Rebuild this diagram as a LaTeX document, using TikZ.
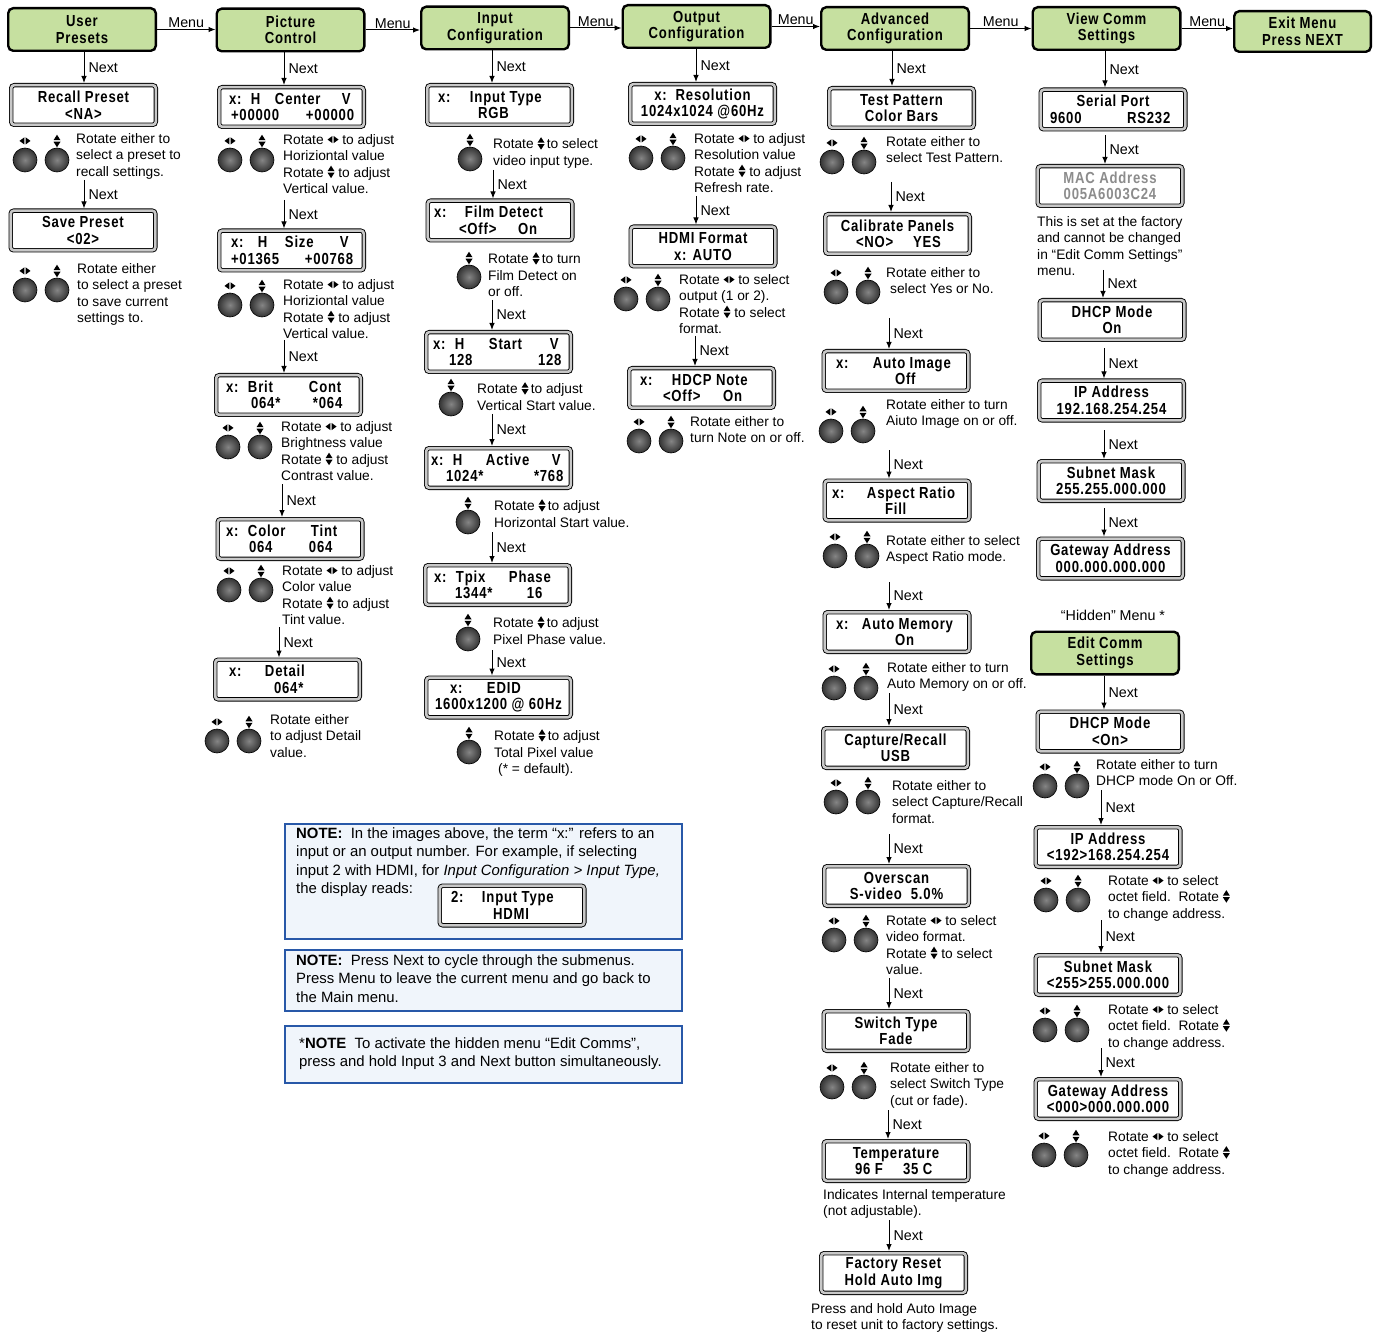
\documentclass[tikz,border=0pt]{standalone}
\usepackage{fontspec}
\usepackage{pict2e}
\setmainfont{Liberation Sans}
\newfontfamily\lcdfont[FakeStretch=0.82,LetterSpace=5]{Liberation Sans}
\usetikzlibrary{arrows.meta}

\definecolor{menugreen}{RGB}{198,224,160}
\definecolor{lcdband}{RGB}{200,200,200}
\definecolor{notefill}{RGB}{240,245,251}
\definecolor{noteblue}{RGB}{40,88,168}
\definecolor{macgray}{RGB}{140,140,140}

% knob direction symbols: left/right and up/down triangle pairs
\newcommand\LR{{\setlength\unitlength{1pt}\begin{picture}(11,9)(0,0)%
  \polygon*(0,4.6)(4.9,8.2)(4.9,1)\polygon*(11,4.6)(6.1,8.2)(6.1,1)\end{picture}}}
\newcommand\UD{{\setlength\unitlength{1pt}\raisebox{-1pt}{\begin{picture}(7,12.5)(0,0)%
  \polygon*(0,7)(7,7)(3.5,12.5)\polygon*(0,5.5)(7,5.5)(3.5,0)\end{picture}}}}

% positioned items on a display line
\newcommand\drow[1]{\makebox[136pt][l]{#1}}
\newcommand\dpos[2]{\rlap{\hspace*{#1pt}#2}}

% pair of knobs (left/right and up/down) and a single up/down knob
\newcommand\knobpair[3]{%
  \node[knob] (#1l) at (#2,#3) {};
  \node[knob] (#1r) at ([xshift=32pt]#1l) {};
  \node[icon] (#1li) at ([yshift=19pt]#1l) {\LR};
  \node[icon] (#1ri) at ([yshift=19pt]#1r) {\UD};}
\newcommand\knobone[3]{%
  \node[knob] (#1) at (#2,#3) {};
  \node[icon] (#1i) at ([yshift=19pt]#1) {\UD};}

% "Next" connectors
\newcommand\nxt[4]{%
  \coordinate (#1) at (#2,#3);
  \draw[arr] (#1) -- (#1 |- #4.north) node[lbl, midway, right=3pt] {Next};}
\newcommand\nxtm[4]{%
  \coordinate (#1) at (#2,0);
  \draw[arr] (#3.south -| #1) -- (#1 |- #4.north) node[lbl, midway, right=3pt] {Next};}

\begin{document}
\begin{tikzpicture}[x=1pt,y=-1pt,
  menubox/.style={draw=black, line width=2.4pt, fill=menugreen, rounded corners=5pt,
    minimum width=147.6pt, minimum height=42.6pt, align=center, inner sep=0pt, outer sep=1.2pt,
    font=\lcdfont\bfseries\fontsize{16}{16.5}\selectfont},
  disp/.style={draw=black, line width=0.9pt, double=lcdband, double distance=2.6pt, fill=white,
    rounded corners=3pt, minimum width=144.6pt, minimum height=39.6pt, align=center,
    inner sep=0pt, outer sep=2.2pt, font=\lcdfont\bfseries\fontsize{16}{16.5}\selectfont},
  knob/.style={circle, draw=black, line width=0.6pt, inner color=black!48, outer color=black!80,
    minimum size=24pt, inner sep=0pt},
  icon/.style={inner sep=0pt},
  lbl/.style={font=\fontsize{14.3}{16}\selectfont, inner sep=1pt},
  desc/.style={font=\fontsize{13.75}{16.5}\selectfont, align=left, anchor=north west, inner sep=0pt},
  notebox/.style={draw=noteblue, line width=2pt, fill=notefill, anchor=north west, inner sep=0pt},
  notetxt/.style={font=\fontsize{14.9}{18.6}\selectfont, align=left, anchor=north west, inner sep=0pt},
  arr/.style={line width=1pt, -{Latex[length=7pt,width=5.5pt]}}]
\useasboundingbox (0,0) rectangle (1377,1332);

% ---------- main menu row ----------
\node[menubox] (m1) at (82,29.5) {User\\Presets};
\node[menubox] (m2) at (290.5,30) {Picture\\Control};
\node[menubox] (m3) at (495,28) {Input\\Configuration};
\node[menubox] (m4) at (696.5,26.5) {Output\\Configuration};
\node[menubox] (m5) at (895,28.5) {Advanced\\Configuration};
\node[menubox] (m6) at (1106.5,28.5) {View Comm\\Settings};
\node[menubox, minimum width=136.6pt, minimum height=40.6pt] (m7) at (1302.5,31.5) {Exit Menu\\Press NEXT};
\foreach \a/\b in {m1/m2,m2/m3,m3/m4,m4/m5,m5/m6,m6/m7}
  \draw[arr] (\a.east) -- (\a.east -| \b.west) node[lbl, midway, above=0pt] {Menu};

% ---------- User Presets ----------
\node[disp] (recall) at (83.5,105) {Recall Preset\\<NA>};
\node[disp] (save) at (83,230.5) {Save Preset\\<02>};
\knobpair{k1}{25}{160}
\knobpair{k2}{25}{290}
\node[desc] (t1) at (76,133) {Rotate either to\\select a preset to\\recall settings.};
\node[desc] (t2) at (77,263) {Rotate either\\to select a preset\\to save current\\settings to.};
\nxtm{a1}{84}{m1}{recall}
\nxt{a2}{84}{180}{save}

% ---------- Picture Control ----------
\node[disp] (hcen) at (291.5,107) {\drow{\dpos{5.5}{x:}\dpos{27.5}{H}\dpos{51.5}{Center}\dpos{118.5}{V}}\\\drow{\dpos{7.5}{+00000}\dpos{82.5}{+00000}}};
\node[disp] (hsize) at (291.5,250.5) {\drow{\dpos{7.5}{x:}\dpos{34.5}{H}\dpos{61.5}{Size}\dpos{116.5}{V}}\\\drow{\dpos{7.5}{+01365}\dpos{81.5}{+00768}}};
\node[disp] (brit) at (288.5,395) {\drow{\dpos{5.5}{x:}\dpos{27.5}{Brit}\dpos{88.5}{Cont}}\\\drow{\dpos{30.5}{064*}\dpos{92.5}{*064}}};
\node[disp] (color) at (290,539) {\drow{\dpos{4}{x:}\dpos{26}{Color}\dpos{89}{Tint}}\\\drow{\dpos{27}{064}\dpos{87}{064}}};
\node[disp] (detail) at (287.5,679.5) {\drow{\dpos{9.5}{x:}\dpos{45.5}{Detail}}\\\drow{\dpos{54.5}{064*}}};
\knobpair{k3}{230}{160}
\knobpair{k4}{230}{305}
\knobpair{k5}{228}{447}
\knobpair{k6}{229}{590}
\knobpair{k7}{217}{741}
\node[desc] (t3) at (283,134) {Rotate \LR{} to adjust\\Horiziontal value\\Rotate \UD{} to adjust\\Vertical value.};
\node[desc] (t4) at (283,279) {Rotate \LR{} to adjust\\Horiziontal value\\Rotate \UD{} to adjust\\Vertical value.};
\node[desc] (t5) at (281,421) {Rotate \LR{} to adjust\\Brightness value\\Rotate \UD{} to adjust\\Contrast value.};
\node[desc] (t6) at (282,565) {Rotate \LR{} to adjust\\Color value\\Rotate \UD{} to adjust\\Tint value.};
\node[desc] (t7) at (270,714) {Rotate either\\to adjust Detail\\value.};
\nxtm{b1}{284}{m2}{hcen}
\nxt{b2}{284}{200}{hsize}
\nxt{b3}{284}{340}{brit}
\nxt{b4}{282}{484}{color}
\nxt{b5}{279}{627}{detail}

% ---------- Input Configuration ----------
\node[disp] (intype) at (499.5,105) {\drow{\dpos{6.5}{x:}\dpos{38.5}{Input Type}}\\\drow{\dpos{46.5}{RGB}}};
\node[disp] (film) at (500,220.5) {\drow{\dpos{2}{x:}\dpos{33}{Film Detect}}\\\drow{\dpos{27}{<Off>}\dpos{86}{On}}};
\node[disp] (hstart) at (498.5,352) {\drow{\dpos{2.5}{x:}\dpos{24.5}{H}\dpos{58.5}{Start}\dpos{119.5}{V}}\\\drow{\dpos{18.5}{128}\dpos{107.5}{128}}};
\node[disp] (active) at (498.5,468) {\drow{\dpos{0.5}{x:}\dpos{22.5}{H}\dpos{55.5}{Active}\dpos{121.5}{V}}\\\drow{\dpos{15.5}{1024*}\dpos{103.5}{*768}}};
\node[disp] (tpix) at (497.5,585) {\drow{\dpos{4.5}{x:}\dpos{26.5}{Tpix}\dpos{79.5}{Phase}}\\\drow{\dpos{25.5}{1344*}\dpos{97.5}{16}}};
\node[disp] (edid) at (498.5,697.5) {\drow{\dpos{19.5}{x:}\dpos{56.5}{EDID}}\\1600x1200 @ 60Hz};
\knobone{k8}{470}{159}
\knobone{k9}{469}{277}
\knobone{k10}{451}{404}
\knobone{k11}{468}{522}
\knobone{k12}{468}{639}
\knobone{k13}{469}{752}
\node[desc] (t8) at (493,137) {Rotate \UD\,to select\\video input type.};
\node[desc] (t9) at (488,252) {Rotate \UD\,to turn\\Film Detect on\\or off.};
\node[desc] (t10) at (477,382) {Rotate \UD\,to adjust\\Vertical Start value.};
\node[desc] (t11) at (494,499) {Rotate \UD\,to adjust\\Horizontal Start value.};
\node[desc] (t12) at (493,616) {Rotate \UD\,to adjust\\Pixel Phase value.};
\node[desc] (t13) at (494,729) {Rotate \UD\,to adjust\\Total Pixel value\\\hspace*{4pt}(* = default).};
\nxtm{c1}{492}{m3}{intype}
\nxt{c2}{493}{170}{film}
\nxt{c3}{492}{300}{hstart}
\nxt{c4}{492}{414}{active}
\nxt{c5}{492}{532}{tpix}
\nxt{c6}{492}{650}{edid}

% ---------- Output Configuration ----------
\node[disp] (res) at (702.5,104) {x:\ \ Resolution\\1024x1024 @60Hz};
\node[disp] (hdmi) at (703,246.5) {HDMI Format\\x: AUTO};
\node[disp] (hdcp) at (701.5,388) {\drow{\dpos{6.5}{x:}\dpos{38.5}{HDCP Note}}\\\drow{\dpos{29.5}{<Off>}\dpos{89.5}{On}}};
\knobpair{k14}{641}{158}
\knobpair{k15}{626}{299}
\knobpair{k16}{639}{441}
\node[desc] (t14) at (694,133) {Rotate \LR{} to adjust\\Resolution value\\Rotate \UD{} to adjust\\Refresh rate.};
\node[desc] (t15) at (679,274) {Rotate \LR{} to select\\output (1 or 2).\\Rotate \UD{} to select\\format.};
\node[desc] (t16) at (690,416) {Rotate either to\\turn Note on or off.};
\nxtm{d1}{696}{m4}{res}
\nxt{d2}{696}{196}{hdmi}
\nxt{d3}{695}{336}{hdcp}

% ---------- Advanced Configuration ----------
\node[disp] (testpat) at (901.5,108) {Test Pattern\\Color Bars};
\node[disp] (calib) at (897.5,234) {Calibrate Panels\\\drow{\dpos{26.5}{<NO>}\dpos{83.5}{YES}}};
\node[disp] (autoimg) at (896,371) {\drow{\dpos{8}{x:}\dpos{45}{Auto Image}}\\\drow{\dpos{67}{Off}}};
\node[disp] (aspect) at (897,500.5) {\drow{\dpos{3}{x:}\dpos{38}{Aspect Ratio}}\\\drow{\dpos{56}{Fill}}};
\node[disp] (automem) at (897,632) {\drow{\dpos{7}{x:}\dpos{33}{Auto Memory}}\\\drow{\dpos{66}{On}}};
\node[disp] (capture) at (895.5,748) {Capture/Recall\\USB};
\node[disp] (overscan) at (896.5,886) {Overscan\\S-video\ \ 5.0\%};
\node[disp] (switch) at (896,1031) {Switch Type\\Fade};
\node[disp] (temp) at (896,1161) {Temperature\\\drow{\dpos{27}{96 F}\dpos{75}{35 C}}};
\node[disp] (factory) at (893.5,1273) {Factory Reset\\Hold Auto Img};
\knobpair{k17}{832}{162}
\knobpair{k18}{836}{292}
\knobpair{k19}{831}{431}
\knobpair{k20}{835}{556}
\knobpair{k21}{834}{688}
\knobpair{k22}{836}{802}
\knobpair{k23}{834}{940}
\knobpair{k24}{832}{1087}
\node[desc] (t17) at (886,136) {Rotate either to\\select Test Pattern.};
\node[desc] (t18) at (886,267) {Rotate either to\\\hspace*{4pt}select Yes or No.};
\node[desc] (t19) at (886,399) {Rotate either to turn\\Aiuto Image on or off.};
\node[desc] (t20) at (886,535) {Rotate either to select\\Aspect Ratio mode.};
\node[desc] (t21) at (887,662) {Rotate either to turn\\Auto Memory on or off.};
\node[desc] (t22) at (892,780) {Rotate either to\\select Capture/Recall\\format.};
\node[desc] (t23) at (886,915) {Rotate \LR{} to select\\video format.\\Rotate \UD{} to select\\value.};
\node[desc] (t24) at (890,1062) {Rotate either to\\select Switch Type\\(cut or fade).};
\node[desc] (t25) at (823,1189) {Indicates Internal temperature\\(not adjustable).};
\node[desc] (t26) at (811,1303) {Press and hold Auto Image\\to reset unit to factory settings.};
\nxtm{e1}{892}{m5}{testpat}
\nxt{e2}{891}{182}{calib}
\nxt{e3}{889}{318}{autoimg}
\nxt{e4}{889}{450}{aspect}
\nxt{e5}{889}{582}{automem}
\nxt{e6}{889}{693}{capture}
\nxt{e7}{889}{834}{overscan}
\nxt{e8}{889}{978}{switch}
\nxt{e9}{888}{1110}{temp}
\nxt{e10}{889}{1220}{factory}

% ---------- View Comm Settings ----------
\node[disp] (serial) at (1113,109.5) {Serial Port\\\drow{\dpos{5}{9600}\dpos{82}{RS232}}};
\node[disp, text=macgray] (mac) at (1110,186) {MAC Address\\005A6003C24};
\node[disp] (dhcp) at (1112,320) {DHCP Mode\\On};
\node[disp] (ip) at (1111.5,400.5) {IP Address\\192.168.254.254};
\node[disp] (subnet) at (1111,481) {Subnet Mask\\255.255.000.000};
\node[disp] (gateway) at (1110.5,558.5) {Gateway Address\\000.000.000.000};
\node[desc] (t27) at (1037,216) {This is set at the factory\\and cannot be changed\\in “Edit Comm Settings”\\menu.};
\nxtm{f1}{1105}{m6}{serial}
\nxt{f2}{1105}{135}{mac}
\nxt{f3}{1103}{270}{dhcp}
\nxt{f4}{1104}{348}{ip}
\nxt{f5}{1104}{430}{subnet}
\nxt{f6}{1104}{508}{gateway}

% ---------- hidden Edit Comm Settings menu ----------
\node[lbl] (hidden) at (1113,615) {“Hidden” Menu *};
\node[menubox] (m8) at (1105,653) {Edit Comm\\Settings};
\node[disp] (dhcpe) at (1110,731.5) {DHCP Mode\\<On>};
\node[disp] (ipe) at (1108,847) {IP Address\\<192>168.254.254};
\node[disp] (subnete) at (1108,975) {Subnet Mask\\<255>255.000.000};
\node[disp] (gatewaye) at (1108,1099) {Gateway Address\\<000>000.000.000};
\knobpair{k25}{1045}{786}
\knobpair{k26}{1046}{900}
\knobpair{k27}{1045}{1030}
\knobpair{k28}{1044}{1155}
\node[desc] (t28) at (1096,759) {Rotate either to turn\\DHCP mode On or Off.};
\node[desc] (t29) at (1108,875) {Rotate \LR{} to select\\octet field.\ \ Rotate \UD\\to change address.};
\node[desc] (t30) at (1108,1004) {Rotate \LR{} to select\\octet field.\ \ Rotate \UD\\to change address.};
\node[desc] (t31) at (1108,1131) {Rotate \LR{} to select\\octet field.\ \ Rotate \UD\\to change address.};
\nxtm{g1}{1104}{m8}{dhcpe}
\nxt{g2}{1101}{790}{ipe}
\nxt{g3}{1101}{920}{subnete}
\nxt{g4}{1101}{1048}{gatewaye}

% ---------- notes ----------
\node[notebox, minimum width=397pt, minimum height=115pt] (note1) at (284,823) {};
\node[notetxt] (n1t) at (296,827) {\textbf{NOTE:}\ \ In the images above, the term “x:” refers to an\\input or an output number. For example, if selecting\\input 2 with HDMI, for \textit{Input Configuration > Input Type,}\\the display reads:};
\node[disp] (ndisp) at (512,905.5) {\drow{\dpos{7}{2:}\dpos{38}{Input Type}}\\\drow{\dpos{49}{HDMI}}};
\node[notebox, line width=1.6pt, minimum width=397pt, minimum height=61pt] (note2) at (284,949) {};
\node[notetxt] (n2t) at (296,954) {\textbf{NOTE:}\ \ Press Next to cycle through the submenus.\\Press Menu to leave the current menu and go back to\\the Main menu.};
\node[notebox, line width=1.6pt, minimum width=397pt, minimum height=57pt] (note3) at (284,1025) {};
\node[notetxt] (n3t) at (299,1037) {*\textbf{NOTE}\ \ To activate the hidden menu “Edit Comms”,\\press and hold Input 3 and Next button simultaneously.};
\end{tikzpicture}
\end{document}
